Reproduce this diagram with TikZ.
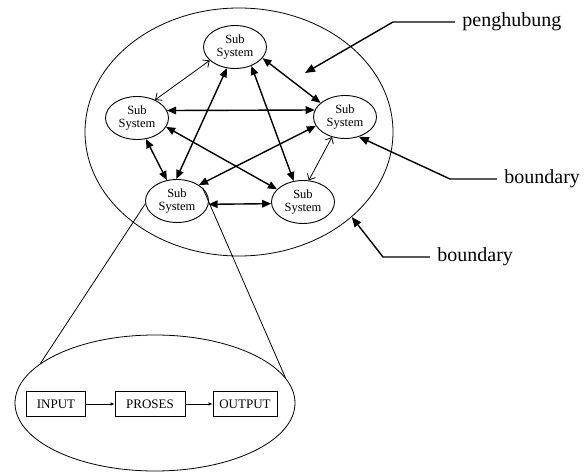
\documentclass[tikz,border=0pt]{standalone}
\usepackage{fontspec}
\setmainfont{Liberation Serif}
\usetikzlibrary{arrows.meta,shapes.geometric}

\begin{document}
\begin{tikzpicture}[x=1pt,y=-1pt,line width=.8pt,
  subsys/.style={ellipse,draw,line width=.9pt,minimum width=63pt,minimum height=43pt,inner sep=0pt,align=center,font=\fontsize{12.5}{12.5}\selectfont},
  bold/.style={{Triangle[length=9pt,width=7.5pt]}-{Triangle[length=9pt,width=7.5pt]},line width=1.4pt},
  thin/.style={{Straight Barb[length=5pt,width=9pt]}-{Straight Barb[length=5pt,width=9pt]},line width=.8pt},
  lbl/.style={anchor=west,inner xsep=7pt,inner ysep=0pt,font=\fontsize{20}{22}\selectfont},
  pointer/.style={-{Triangle[length=10pt,width=8pt]},line width=1.4pt},
  procbox/.style={draw,minimum height=25pt,inner sep=0pt,font=\fontsize{13}{14}\selectfont},
  flow/.style={-{Latex[length=4pt,width=3.5pt]},line width=.7pt}]
\useasboundingbox (0,0) rectangle (587,473);
\node[ellipse,draw,minimum width=308pt,minimum height=248pt,inner sep=0pt] (sys) at (239,132) {};
\node[subsys] (top) at (235,47) {Sub\\System};
\node[subsys] (lft) at (137,118) {Sub\\System};
\node[subsys] (rgt) at (345,117) {Sub\\System};
\node[subsys] (bl) at (177,201) {Sub\\System};
\node[subsys] (br) at (303,202) {Sub\\System};
\draw[thin] (top.208) -- (lft.45);
\draw[bold] (top.338) -- (rgt.150);
\draw[bold] (lft.14) -- (rgt.167);
\draw[bold] (lft.293) -- (bl.116);
\draw[bold] (lft.343) -- (br.154);
\draw[bold] (top.249) -- (bl.92);
\draw[bold] (top.311) -- (br.114);
\draw[bold] (rgt.197) -- (bl.36);
\draw[thin] (rgt.237) -- (br.75);
\draw[bold] (bl.354) -- (br.183);
\node[lbl] (hub) at (455,22) {penghubung};
\node[lbl] (bnd1) at (497,179) {boundary};
\node[lbl] (bnd2) at (430,257) {boundary};
\coordinate (hubtip) at (305,73);
\draw[pointer] (hub.west) -- ++(-62,0) -- (hubtip);
\draw[pointer] (bnd1.west) -- ++(-47,0) -- (rgt.305);
\draw[pointer] (bnd2.west) -- ++(-47,0) -- (sys.323);
\node[ellipse,draw,minimum width=280pt,minimum height=136pt,inner sep=0pt] (zoom) at (155,403) {};
\draw (bl.185) -- (zoom.161);
\draw (bl.27) -- (zoom.11);
\node[procbox,minimum width=59pt] (in) at (56,404) {INPUT};
\node[procbox,minimum width=70pt] (proc) at (150,404) {PROSES};
\node[procbox,minimum width=64pt] (out) at (245,404) {OUTPUT};
\draw[flow] (in) -- (proc);
\draw[flow] (proc) -- (out);
\end{tikzpicture}
\end{document}
